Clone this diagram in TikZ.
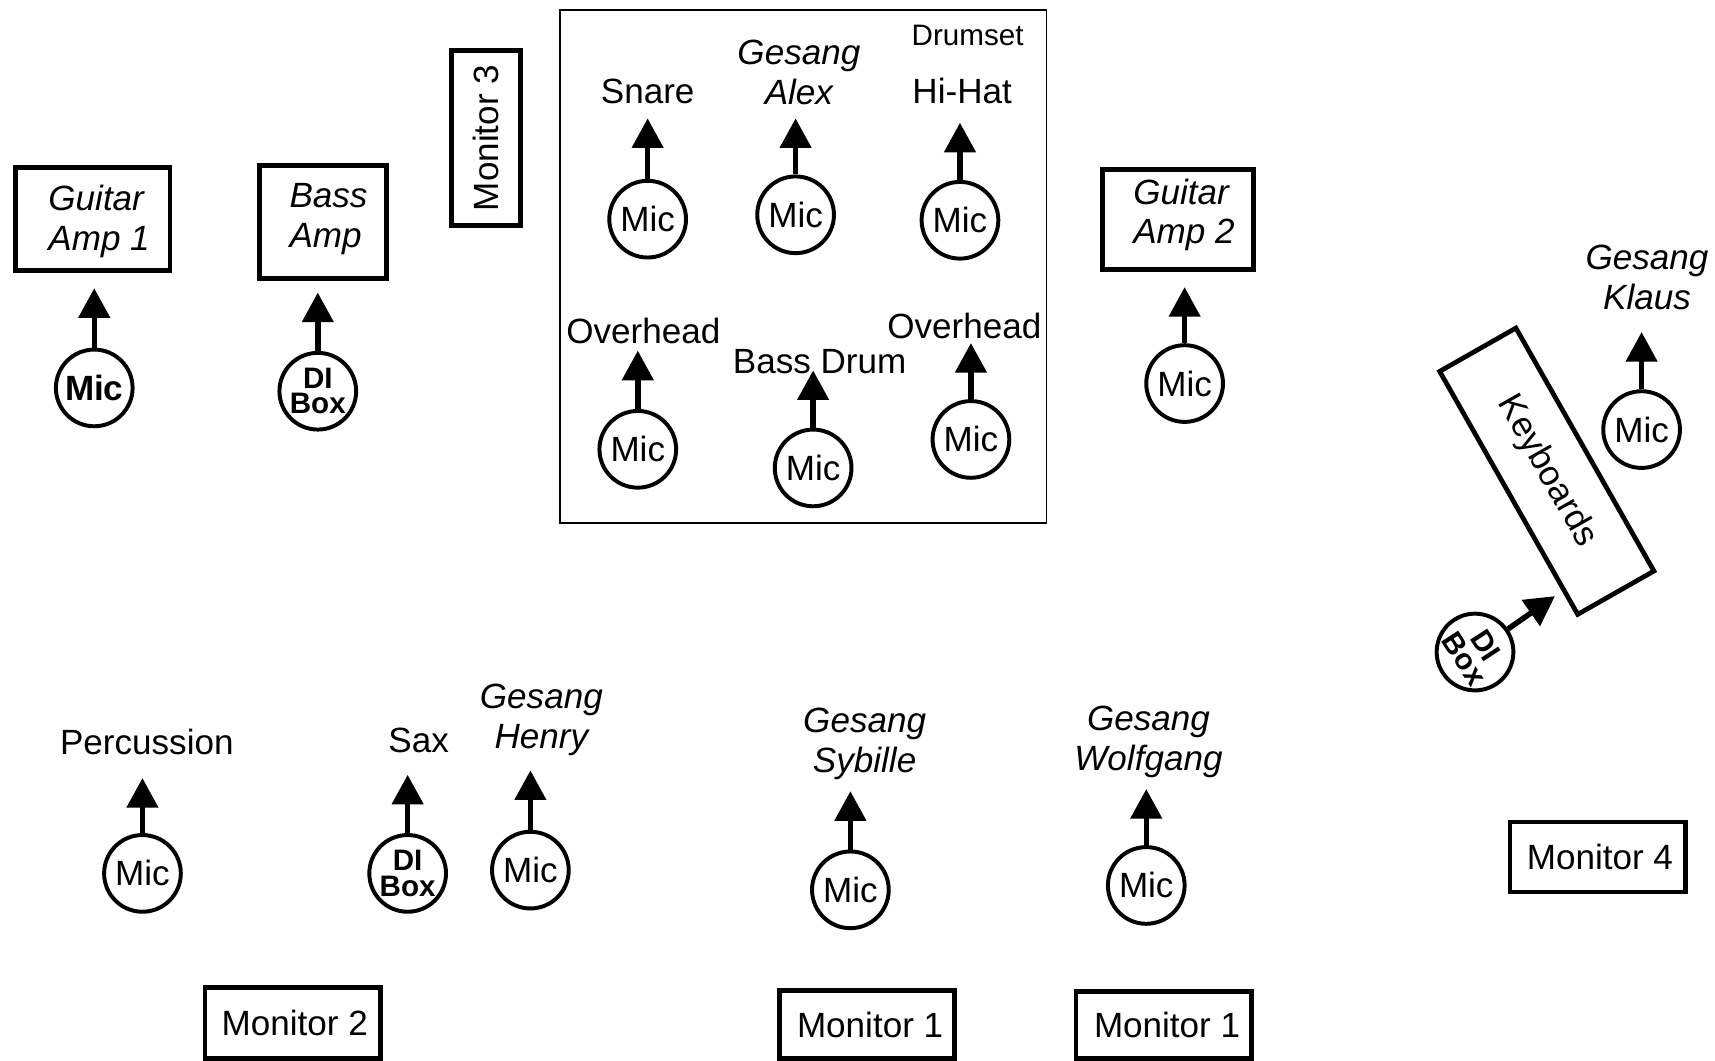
\documentclass[tikz,border=0pt]{standalone}
\usepackage{fontspec}
\setmainfont{Liberation Sans}
\usetikzlibrary{arrows.meta}
\newcommand\fsz{\fontsize{32}{36}\selectfont}
\newcommand\fsdi{\fontsize{27}{23}\selectfont\bfseries}
\newcommand\fsdrum{\fontsize{27}{30}\selectfont}
\begin{document}
\begin{tikzpicture}[x=1pt,y=1pt,
  box/.style={draw, line width=4.3pt, inner sep=0pt},
  mon/.style={box, font=\fsz, minimum width=160pt, minimum height=64pt},
  mic/.style={draw, circle, line width=3.6pt, minimum size=70pt, inner sep=0pt, font=\fsz},
  dibox/.style={mic, font=\fsdi, align=center},
  lbl/.style={font=\fsz, inner sep=0pt},
  ital/.style={font=\fsz\itshape, align=center, inner sep=0pt},
  itl/.style={font=\fsz\itshape, align=left, inner sep=0pt, anchor=west},
  arr/.style={line width=5pt, -{Triangle[width=28pt,length=27pt]}}]
\useasboundingbox (0,0) rectangle (1565,-968);

% ---- Guitar Amp 1 ----
\node[box, minimum width=141pt, minimum height=94pt] (ga1) at (84.5,-200) {};
\node[itl] (ga1t) at (44,-202) {Guitar\\Amp 1};
\node[mic, font=\fsz\bfseries] (m1) at (86,-354) {Mic};
\coordinate (t1) at (86,-263);
\draw[arr] (m1) -- (t1);

% ---- Bass Amp ----
\node[box, minimum width=116pt, minimum height=103pt] (ba) at (295,-202.5) {};
\node[itl] (bat) at (264,-200) {Bass\\Amp};
\node[dibox] (d1) at (290,-357) {DI\\Box};
\coordinate (t2) at (290,-267);
\draw[arr] (d1) -- (t2);

% ---- Monitor 3 ----
\node[box, font=\fsz, rotate=90, minimum width=160pt, minimum height=63pt] (mon3) at (443.5,-126) {Monitor 3};

% ---- Drumset ----
\node[draw, line width=1.5pt, minimum width=444pt, minimum height=468pt, inner sep=0pt] (drums) at (733,-243) {};
\node[font=\fsdrum, inner sep=0pt] (drumt) at (883,-32) {Drumset};

\node[lbl] (snl) at (591,-83) {Snare};
\node[mic] (msn) at (591,-200) {Mic};
\coordinate (tsn) at (591,-108);
\draw[arr] (msn) -- (tsn);

\node[ital] (alx) at (729,-66) {Gesang\\Alex};
\node[mic] (mal) at (726,-196) {Mic};
\coordinate (tal) at (726,-108);
\draw[arr] (mal) -- (tal);

\node[lbl] (hhl) at (878,-83) {Hi-Hat};
\node[mic] (mhh) at (876,-201) {Mic};
\coordinate (thh) at (876,-112);
\draw[arr] (mhh) -- (thh);

\node[lbl] (ohl) at (587,-302) {Overhead};
\node[mic] (mol) at (582,-410) {Mic};
\coordinate (tol) at (582,-320);
\draw[arr] (mol) -- (tol);

\node[lbl] (bdl) at (748,-330) {Bass Drum};
\node[mic] (mbd) at (742,-427) {Mic};
\coordinate (tbd) at (742,-338);
\draw[arr] (mbd) -- (tbd);

\node[lbl] (ohr) at (880,-297) {Overhead};
\node[mic] (mor) at (886,-401) {Mic};
\coordinate (tor) at (886,-313);
\draw[arr] (mor) -- (tor);

% ---- Guitar Amp 2 ----
\node[box, minimum width=138pt, minimum height=91pt] (ga2) at (1075,-200.5) {};
\node[itl] (ga2t) at (1034,-196) {Guitar\\Amp 2};
\node[mic] (m2) at (1081,-350) {Mic};
\coordinate (t3) at (1081,-262);
\draw[arr] (m2) -- (t3);

% ---- Gesang Klaus ----
\node[ital] (kll) at (1503,-253) {Gesang\\Klaus};
\node[mic] (mkl) at (1498,-392) {Mic};
\coordinate (tkl) at (1498,-303);
\draw[arr] (mkl) -- (tkl);

% ---- Keyboards ----
\node[box, font=\fsz, rotate=-60.4, minimum width=255pt, minimum height=80pt] (kb) at (1411.5,-430) {Keyboards};
\node[dibox, rotate=-57] (dk) at (1346,-595) {DI\\Box};
\coordinate (tk) at (1419,-544);
\draw[arr] (dk) -- (tk);

% ---- Bottom row ----
\node[lbl] (pcl) at (134,-677) {Percussion};
\node[mic] (mpc) at (130,-797) {Mic};
\coordinate (tpc) at (130,-710);
\draw[arr] (mpc) -- (tpc);

\node[lbl] (sxl) at (382,-676) {Sax};
\node[dibox] (dsx) at (372,-797) {DI\\Box};
\coordinate (tsx) at (372,-707);
\draw[arr] (dsx) -- (tsx);

\node[ital] (hnl) at (494,-657) {Gesang\\Henry};
\node[mic] (mhn) at (484,-794) {Mic};
\coordinate (thn) at (484,-703);
\draw[arr] (mhn) -- (thn);

\node[ital] (syl) at (789,-679) {Gesang\\Sybille};
\node[mic] (msy) at (776,-812) {Mic};
\coordinate (tsy) at (776,-722);
\draw[arr] (msy) -- (tsy);

\node[ital] (wol) at (1048,-677) {Gesang\\Wolfgang};
\node[mic] (mwo) at (1046,-808) {Mic};
\coordinate (two) at (1046,-720);
\draw[arr] (mwo) -- (two);

% ---- Monitors ----
\node[mon, minimum height=65pt] (mon2) at (267,-933.5) {\hspace*{4pt}Monitor 2};
\node[mon, minimum height=62pt] (mon1a) at (791,-935) {\hspace*{6pt}Monitor 1};
\node[mon, minimum height=61pt] (mon1b) at (1062,-935.5) {\hspace*{6pt}Monitor 1};
\node[mon] (mon4) at (1458,-782) {\hspace*{4pt}Monitor 4};
\end{tikzpicture}
\end{document}
